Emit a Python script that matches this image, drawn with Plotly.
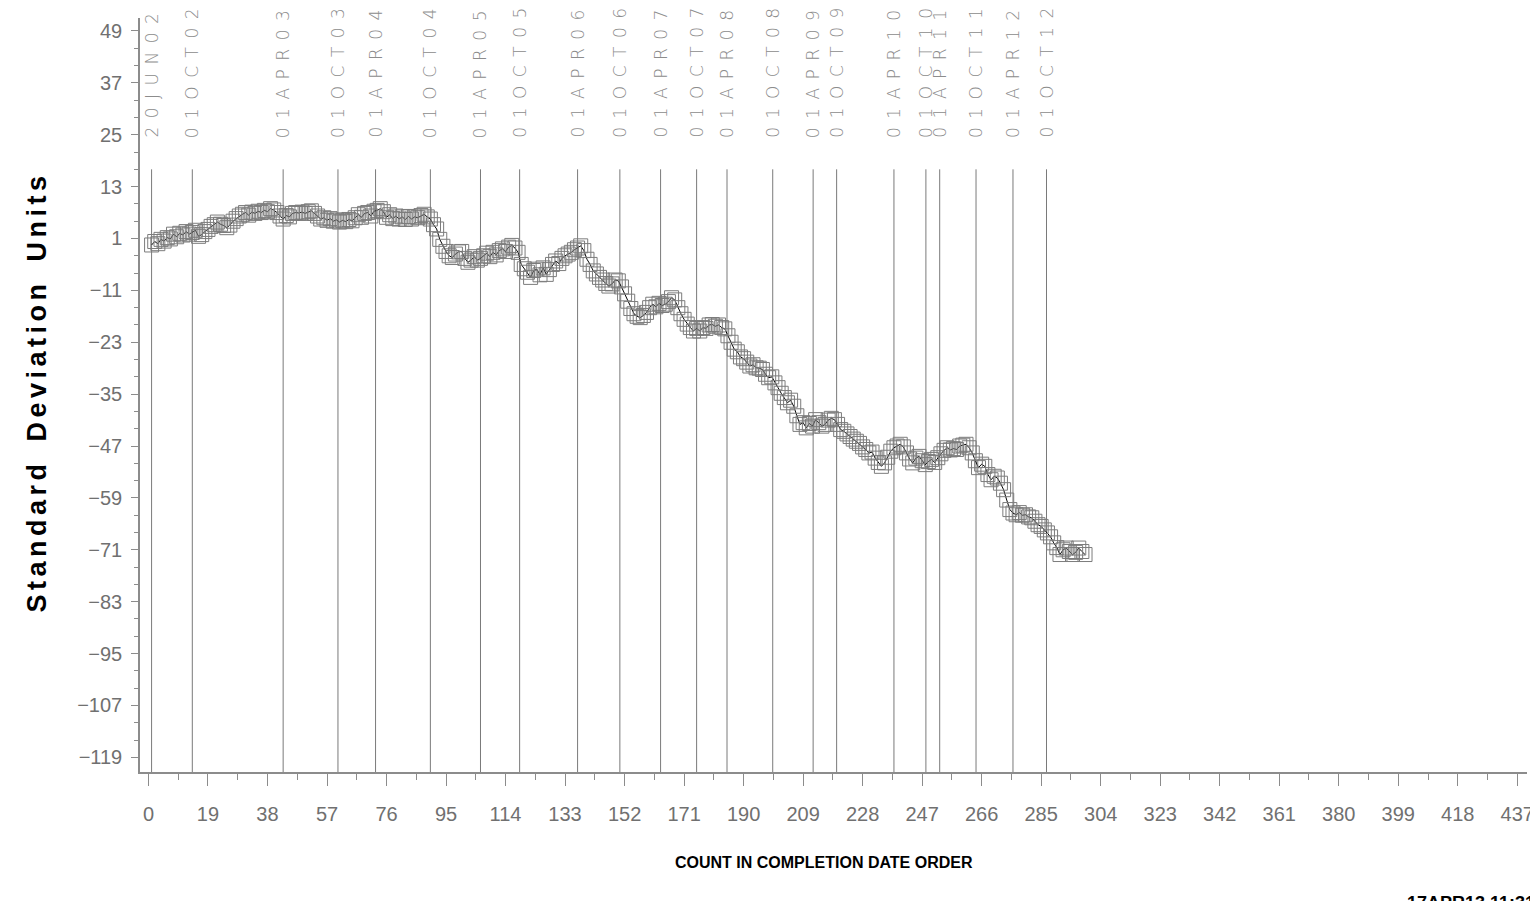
import plotly.graph_objects as go

# ---------------- data ----------------
sd_units = [
    -0.5, 0.3, -0.2, 0.8, 0.4, 1.2, 0.9, 2.0, 1.4, 2.2,
    1.8, 2.6, 2.0, 2.4, 2.9, 1.5, 1.9, 2.6, 3.1, 3.8,
    4.2, 4.8, 4.3, 4.0, 3.5, 4.1, 5.0, 5.6, 6.2, 6.6,
    7.0, 6.4, 7.1, 6.8, 7.3, 7.0, 7.5, 7.2, 7.9, 7.6,
    7.0, 6.2, 5.5, 6.3, 6.0, 6.8, 7.0, 6.9, 7.1, 6.8,
    7.2, 7.4, 6.8, 6.2, 5.5, 5.8, 5.2, 5.6, 5.0, 5.3,
    4.8, 5.2, 4.9, 5.4, 5.1, 5.8, 6.5, 5.9, 6.8, 7.0,
    6.2, 7.3, 7.5, 7.9, 7.2, 5.9, 6.5, 5.6, 6.2, 5.5,
    6.0, 5.4, 6.1, 5.5, 6.0, 5.8, 6.3, 6.6, 6.0, 5.5,
    4.2, 3.2, 0.8, -0.8, -2.0, -3.0, -3.4, -2.6, -2.1, -2.0,
    -3.6, -4.5, -4.0, -3.2, -4.0, -3.6, -3.0, -2.4, -3.2, -2.2,
    -2.8, -1.8, -1.4, -2.0, -1.0, -0.6, -1.2, -2.2, -5.0, -6.0,
    -6.8, -8.0, -6.4, -6.1, -7.4, -5.8, -7.3, -6.2, -5.0, -4.2,
    -4.8, -3.6, -3.0, -2.6, -2.2, -1.6, -1.2, -0.7, -1.8, -3.8,
    -5.0, -6.5, -7.2, -8.0, -8.6, -9.4, -10.0, -9.5, -8.6, -8.8,
    -10.2, -11.8, -13.5, -15.2, -16.4, -17.0, -17.3, -16.8, -16.1, -15.0,
    -14.2, -14.8, -14.0, -14.5, -14.2, -13.6, -12.7, -13.2, -15.0, -16.4,
    -17.7, -18.8, -19.6, -20.4, -19.8, -20.4, -19.6, -19.8, -19.0, -18.9,
    -19.3, -19.0, -19.6, -19.9, -21.5, -23.0, -24.6, -25.2, -26.4, -26.8,
    -27.6, -28.5, -28.2, -28.9, -29.0, -29.3, -30.4, -31.2, -31.0, -32.4,
    -33.5, -34.8, -35.8, -37.0, -36.4, -37.8, -40.0, -42.0, -41.6, -42.8,
    -41.8, -42.4, -40.9, -41.6, -42.4, -42.0, -41.0, -40.6, -40.9, -42.0,
    -43.2, -43.6, -44.2, -44.8, -45.4, -45.9, -46.4, -47.2, -47.8, -48.6,
    -48.4, -49.8, -50.8, -51.7, -50.9, -49.6, -48.2, -47.4, -47.0, -46.6,
    -47.2, -48.6, -50.0, -50.9, -49.8, -49.4, -50.4, -51.3, -50.6, -50.1,
    -50.8, -49.7, -48.8, -48.0, -47.4, -47.9, -47.6, -47.8, -47.0, -46.8,
    -46.6, -47.4, -48.6, -50.4, -52.0, -51.2, -51.7, -53.6, -54.8, -54.0,
    -54.4, -55.6, -57.1, -59.5, -61.7, -62.5, -62.9, -62.4, -63.0, -62.9,
    -63.4, -63.6, -64.4, -65.2, -65.6, -66.4, -67.1, -68.0, -69.4, -70.5,
    -72.1, -71.0, -70.6, -71.4, -72.1, -71.6, -70.6, -71.4, -72.1,
]
count = list(range(1, len(sd_units) + 1))

event_labels = ["20JUN02", "01OCT02", "01APR03", "01OCT03", "01APR04", "01OCT04",
                "01APR05", "01OCT05", "01APR06", "01OCT06", "01APR07", "01OCT07",
                "01APR08", "01OCT08", "01APR09", "01OCT09", "01APR10", "01OCT10",
                "01APR11", "01OCT11", "01APR12", "01OCT12"]
event_counts = [1, 14, 43, 60.5, 72.5, 90, 106, 118.5, 137, 150.5, 163.5, 175,
                184.7, 199.3, 212.2, 219.7, 238, 248.2, 252.6, 264.2, 276, 286.7]

x_ticks = list(range(0, 438, 19))
y_ticks = list(range(-119, 50, 12))

x_title = "COUNT IN COMPLETION DATE ORDER"
y_title_words = ["Standard", "Deviation", "Units"]
stamp = "17APR13 11:31"

# ---------------- figure ----------------
# page body has an 8px margin: figure is sized so it fills the 1538x901 window
W, H = 1530, 893
L, R, T, B = 131.5, 11, 10, 129
plot_w = W - L - R
plot_h = H - T - B

fig = go.Figure()

fig.add_trace(go.Scatter(
    x=count, y=sd_units, mode="lines+markers",
    line=dict(color="black", width=1),
    marker=dict(symbol="square-open", size=14, color="#7c7c7c",
                line=dict(width=1, color="#7c7c7c")),
    showlegend=False, hoverinfo="x+y",
))

shapes = []
annotations = []
SP = "\u2002"
for xv, lab in zip(event_counts, event_labels):
    shapes.append(dict(type="line", xref="x", yref="y", x0=xv, x1=xv,
                       y0=-122.4, y1=17, layer="below",
                       line=dict(color="#7a7a7a", width=1)))
    annotations.append(dict(
        x=xv, xref="x", y=(plot_h + T - 132) / plot_h, yref="paper", yanchor="bottom",
        xanchor="center", text=SP.join(lab), textangle=-90, showarrow=False,
        font=dict(family="DejaVu Sans", size=17, color="#8c8c8c", weight=200),
    ))

letter_sp = "\u2006"
y_title = (letter_sp * 5).join(letter_sp.join(w) for w in y_title_words)
annotations.append(dict(
    x=0, xref="paper", xanchor="center", xshift=-(L - 28),
    y=(plot_h + T - 387) / plot_h, yref="paper",
    text=y_title, textangle=-90, showarrow=False,
    font=dict(family="Liberation Sans", size=27, color="black", weight="bold"),
))

annotations.append(dict(
    x=0, xref="paper", y=0, yref="paper", yanchor="middle", xanchor="center",
    text=x_title, showarrow=False, xshift=815 - L, yshift=-90,
    font=dict(family="Liberation Sans", size=16, color="black", weight="bold"),
))
annotations.append(dict(
    x=1, xref="paper", y=0, yref="paper", xanchor="left", yanchor="top",
    text=stamp, showarrow=False, xshift=1397 - (W - R), yshift=-119,
    font=dict(family="Liberation Sans", size=18, color="black", weight="bold"),
))

tick_font = dict(family="Liberation Sans", size=20, color="#707070")

fig.update_layout(
    width=W, height=H,
    margin=dict(l=L, r=R, t=T, b=B, autoexpand=False, pad=0),
    paper_bgcolor="white", plot_bgcolor="white",
    shapes=shapes, annotations=annotations,
    xaxis=dict(
        range=[-2.7, 440.1], tickmode="array", tickvals=x_ticks,
        ticktext=[str(v) for v in x_ticks],
        ticks="outside", ticklen=12, tickwidth=1, tickcolor="#8c8c8c",
        showline=True, linecolor="#8c8c8c", linewidth=1.5,
        showgrid=False, zeroline=False, tickfont=tick_font,
        ticklabelstandoff=11,
        minor=dict(tick0=9.5, dtick=19, ticks="outside", ticklen=6,
                   tickcolor="#8c8c8c", tickwidth=1, showgrid=False),
    ),
    yaxis=dict(
        range=[-122.4, 52.0], tickmode="array", tickvals=y_ticks,
        ticktext=[str(v).replace("-", "\u2212") for v in y_ticks],
        ticks="outside", ticklen=7, tickwidth=1, tickcolor="#8c8c8c",
        showline=True, linecolor="#8c8c8c", linewidth=1.5,
        showgrid=False, zeroline=False, tickfont=tick_font,
        ticklabelstandoff=5,
        minor=dict(tick0=-119, dtick=4, ticks="outside", ticklen=4,
                   tickcolor="#8c8c8c", tickwidth=1, showgrid=False),
    ),
)

fig.write_html("out.html")
